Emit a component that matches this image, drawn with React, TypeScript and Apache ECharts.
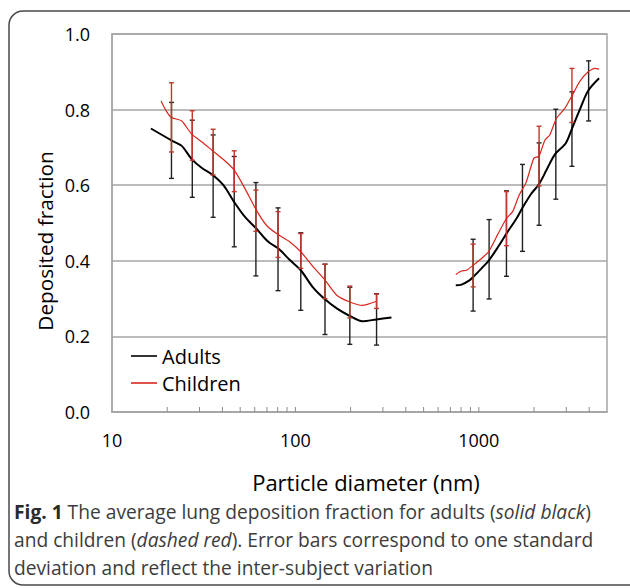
import React, { useEffect, useRef } from 'react';
import * as echarts from 'echarts';

// ---- data (particle diameter in nm, deposited fraction) ----
const adultsSmallD = [16.3, 21.2, 24.0, 27.2, 30.8, 35.4, 40.5, 46.3, 53.1, 61.0, 68.2, 72.6, 80.5, 93.3, 107, 125, 145, 168, 198, 232, 277, 334];
const adultsSmallF = [0.750, 0.718, 0.704, 0.669, 0.646, 0.627, 0.600, 0.556, 0.516, 0.486, 0.459, 0.447, 0.433, 0.402, 0.375, 0.329, 0.298, 0.274, 0.254, 0.240, 0.245, 0.250];
const adultsLargeD = [749, 805, 893, 931, 1035, 1138, 1275, 1415, 1605, 1743, 1936, 2131, 2339, 2595, 2979, 3200, 3548, 3946, 4528];
const adultsLargeF = [0.335, 0.337, 0.349, 0.357, 0.380, 0.402, 0.437, 0.472, 0.512, 0.543, 0.578, 0.603, 0.640, 0.681, 0.711, 0.746, 0.799, 0.850, 0.883];

const childrenSmallD = [18.5, 19.9, 21.1, 24.0, 27.2, 30.8, 35.6, 40.5, 46.4, 53.1, 60.9, 69.5, 80.0, 93.3, 107, 125, 145, 168, 198, 232, 277];
const childrenSmallF = [0.823, 0.794, 0.779, 0.770, 0.735, 0.715, 0.690, 0.668, 0.640, 0.591, 0.536, 0.494, 0.470, 0.450, 0.424, 0.384, 0.349, 0.309, 0.291, 0.282, 0.293];
const childrenLargeD = [749, 805, 857, 931, 1035, 1138, 1275, 1415, 1529, 1660, 1810, 1995, 2131, 2291, 2439, 2652, 2942, 3200, 3548, 3946, 4285, 4528];
const childrenLargeF = [0.364, 0.373, 0.375, 0.388, 0.406, 0.426, 0.472, 0.512, 0.530, 0.574, 0.607, 0.671, 0.677, 0.719, 0.733, 0.777, 0.803, 0.834, 0.874, 0.900, 0.909, 0.907];

const adultErrD = [21.1, 27.4, 35.6, 46.4, 60.9, 80.4, 107, 145, 198, 277, 931, 1138, 1415, 1730, 2131, 2630, 3220, 3970];
const adultErrLow = [0.618, 0.568, 0.515, 0.437, 0.360, 0.321, 0.269, 0.205, 0.179, 0.177, 0.267, 0.299, 0.359, 0.425, 0.494, 0.563, 0.650, 0.770];
const adultErrHigh = [0.819, 0.772, 0.733, 0.676, 0.607, 0.540, 0.474, 0.391, 0.330, 0.313, 0.457, 0.509, 0.585, 0.655, 0.712, 0.801, 0.847, 0.929];

const childErrD = [21.1, 27.4, 35.6, 46.4, 60.9, 80.4, 107, 145, 198, 277, 931, 1415, 2131, 3220];
const childErrLow = [0.688, 0.666, 0.627, 0.583, 0.478, 0.409, 0.380, 0.300, 0.249, 0.274, 0.331, 0.440, 0.598, 0.766];
const childErrHigh = [0.871, 0.797, 0.748, 0.691, 0.587, 0.530, 0.472, 0.391, 0.333, 0.312, 0.444, 0.583, 0.756, 0.909];

const xMajorLabels = [10, 100, 1000];
const xTicks = [20, 30, 40, 50, 60, 70, 80, 90, 100, 200, 300, 400, 500, 600, 700, 800, 900, 1000, 2000, 3000, 4000];
const seriesNames = ['Adults', 'Children'];

const FONT = '"Open Sans", "Noto Sans", sans-serif';
const BLACK = '#000000';
const RED = '#d9261c';
const RED_ERR = '#c0392b';
const GRID_GRAY = '#a6a6a6';
const CAP = 19.2;

const pairs = (d: number[], f: number[]) => d.map((v, i) => [v, f[i]]);

function errRender(color: string) {
  return (params: any, api: any) => {
    const x = api.value(0);
    const lo = api.coord([x, api.value(1)]);
    const hi = api.coord([x, api.value(2)]);
    const w = 2.5;
    const style = { stroke: color, lineWidth: 1.4 };
    return {
      type: 'group',
      children: [
        { type: 'line', shape: { x1: lo[0], y1: lo[1], x2: hi[0], y2: hi[1] }, style },
        { type: 'line', shape: { x1: lo[0] - w, y1: lo[1], x2: lo[0] + w, y2: lo[1] }, style },
        { type: 'line', shape: { x1: hi[0] - w, y1: hi[1], x2: hi[0] + w, y2: hi[1] }, style },
      ],
    };
  };
}

export default function App() {
  const ref = useRef<HTMLDivElement>(null);
  useEffect(() => {
    if (!ref.current) return;
    const chart = echarts.init(ref.current, undefined, { renderer: 'svg' });
    const isMajor = (v: number) => xMajorLabels.some((m) => Math.abs(Math.log10(v) - Math.log10(m)) < 1e-6);
    const option: any = {
      animation: false,
      backgroundColor: '#ffffff',
      textStyle: { fontFamily: FONT },
      grid: {
        left: 112, right: 23, top: 34, bottom: 176,
        show: true, borderColor: GRID_GRAY, borderWidth: 1.5, containLabel: false,
      },
      legend: {
        data: [
          { name: seriesNames[0], icon: 'rect', itemStyle: { color: BLACK } },
          { name: seriesNames[1], icon: 'rect', itemStyle: { color: RED } },
        ],
        orient: 'vertical',
        left: 131,
        top: 346,
        padding: 0,
        itemWidth: 26,
        itemHeight: 1.6,
        itemGap: 7,
        textStyle: { fontSize: 20, color: '#000', fontFamily: FONT },
      },
      xAxis: {
        type: 'log',
        logBase: 10,
        min: 10,
        max: 5000,
        axisLine: { show: true, lineStyle: { color: GRID_GRAY, width: 1.5 } },
        axisTick: { show: false },
        splitLine: { show: false },
        axisLabel: {
          fontSize: 18, color: '#000', margin: 19, fontFamily: FONT,
          formatter: (v: number) => (isMajor(v) ? String(Math.round(v)) : ''),
        },
      },
      yAxis: {
        type: 'value',
        min: 0,
        max: 1,
        interval: 0.2,
        axisLine: { show: true, lineStyle: { color: GRID_GRAY, width: 1.5 } },
        axisTick: { show: false },
        splitLine: { show: true, lineStyle: { color: GRID_GRAY, width: 1.5 } },
        axisLabel: {
          fontSize: 18, color: '#000', margin: 22, fontFamily: FONT,
          formatter: (v: number) => v.toFixed(1),
        },
      },
      graphic: [
        {
          type: 'rect',
          shape: { x: 9, y: 11, width: 640, height: 574, r: 14 },
          style: { fill: 'none', stroke: '#4a4a4a', lineWidth: 1.5 },
          silent: true,
        },
        {
          type: 'text',
          x: 45, y: 241, rotation: Math.PI / 2,
          style: {
            text: 'Deposited fraction', fontSize: 20.8, fontFamily: FONT, fill: '#000',
            align: 'center', verticalAlign: 'middle',
          },
        },
        {
          type: 'text',
          x: 366, y: 482,
          style: {
            text: 'Particle diameter (nm)', fontSize: 22, fontFamily: FONT, fill: '#000',
            align: 'center', verticalAlign: 'middle',
          },
        },
        {
          type: 'text',
          x: 14, y: 497,
          style: {
            text: '{b|Fig. 1} The average lung deposition fraction for adults ({i|solid black})\nand children ({i|dashed red}). Error bars correspond to one standard\ndeviation and reflect the inter-subject variation',
            fontSize: CAP, fontFamily: FONT, fill: '#3c3c3c', lineHeight: 28,
            align: 'left', verticalAlign: 'top',
            rich: {
              b: { fontSize: CAP, fontFamily: FONT, fontWeight: 'bold', fill: '#2a2a2a', lineHeight: 28 },
              i: { fontSize: CAP, fontFamily: FONT, fontStyle: 'italic', fill: '#3c3c3c', lineHeight: 28 },
            },
          },
        },
      ],
      series: [
        {
          type: 'custom', name: 'ticks', silent: true, z: 3,
          data: xTicks.map((t) => [t]),
          encode: { x: 0 },
          renderItem: (params: any, api: any) => {
            const p = api.coord([api.value(0), 0]);
            return {
              type: 'line',
              shape: { x1: p[0], y1: p[1], x2: p[0], y2: p[1] - 5 },
              style: { stroke: '#8c8c8c', lineWidth: 1 },
            };
          },
        },
        {
          type: 'custom', name: 'AdultsErr', silent: true, z: 4,
          data: adultErrD.map((d, i) => [d, adultErrLow[i], adultErrHigh[i]]),
          encode: { x: 0, y: [1, 2] },
          renderItem: errRender('#222222'),
        },
        {
          type: 'line', name: 'Adults', z: 5,
          data: pairs(adultsSmallD, adultsSmallF),
          symbol: 'none', smooth: 0.3,
          lineStyle: { color: BLACK, width: 2 }, itemStyle: { color: BLACK },
        },
        {
          type: 'line', name: 'Adults', z: 5,
          data: pairs(adultsLargeD, adultsLargeF),
          symbol: 'none', smooth: 0.3,
          lineStyle: { color: BLACK, width: 2 }, itemStyle: { color: BLACK },
        },
        {
          type: 'custom', name: 'ChildrenErr', silent: true, z: 6,
          data: childErrD.map((d, i) => [d, childErrLow[i], childErrHigh[i]]),
          encode: { x: 0, y: [1, 2] },
          renderItem: errRender(RED_ERR),
        },
        {
          type: 'line', name: 'Children', z: 7,
          data: pairs(childrenSmallD, childrenSmallF),
          symbol: 'none', smooth: 0.2,
          lineStyle: { color: RED, width: 1.2 }, itemStyle: { color: RED },
        },
        {
          type: 'line', name: 'Children', z: 7,
          data: pairs(childrenLargeD, childrenLargeF),
          symbol: 'none', smooth: 0.2,
          lineStyle: { color: RED, width: 1.2 }, itemStyle: { color: RED },
        },
      ],
    };
    chart.setOption(option);
    return () => chart.dispose();
  }, []);
  return <div ref={ref} style={{ position: 'absolute', left: 0, top: 0, width: 630, height: 588 }} />;
}
